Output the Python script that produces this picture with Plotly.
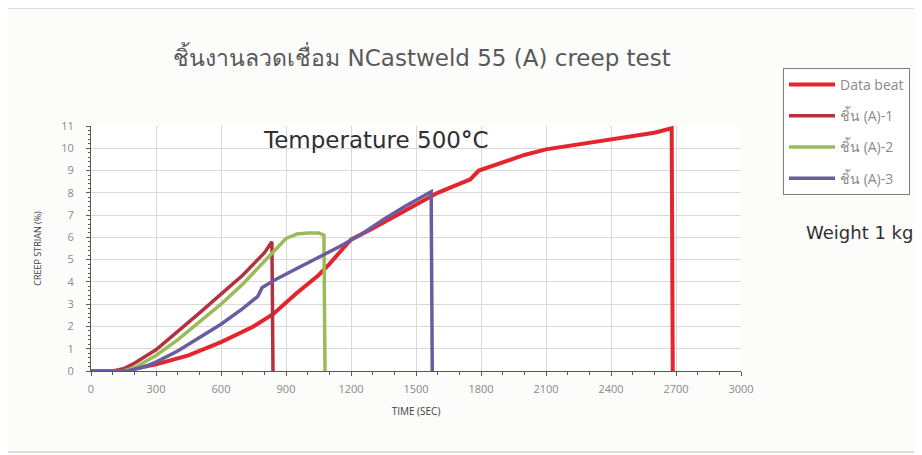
import plotly.graph_objects as go

# ---- data ----
beat_x = [0, 150, 300, 450, 600, 750, 840, 950, 1050, 1100, 1163, 1200, 1300, 1400, 1500, 1600,
          1700, 1750, 1790, 1900, 2000, 2100, 2200, 2300, 2400, 2500, 2600, 2680, 2685]
beat_y = [0, 0, 0.3, 0.7, 1.3, 2.0, 2.55, 3.5, 4.3, 4.8, 5.5, 5.9, 6.4, 6.95, 7.5, 8.0,
          8.4, 8.6, 9.0, 9.35, 9.7, 9.95, 10.1, 10.25, 10.4, 10.55, 10.7, 10.9, 0]

s1_x = [0, 100, 150, 200, 300, 400, 500, 600, 700, 800, 835, 840]
s1_y = [0, 0, 0.1, 0.35, 0.95, 1.75, 2.6, 3.45, 4.3, 5.3, 5.8, 0]

s2_x = [0, 150, 200, 300, 400, 500, 600, 700, 800, 850, 900, 950, 1000, 1050, 1075, 1080]
s2_y = [0, 0, 0.15, 0.7, 1.4, 2.2, 3.0, 3.9, 4.9, 5.4, 5.95, 6.15, 6.2, 6.2, 6.1, 0]

s3_x = [0, 170, 250, 300, 400, 500, 600, 700, 770, 790, 850, 950, 1050, 1150, 1250, 1350,
        1450, 1550, 1570, 1575]
s3_y = [0, 0, 0.2, 0.4, 0.9, 1.5, 2.1, 2.8, 3.35, 3.75, 4.1, 4.6, 5.1, 5.6, 6.15, 6.8,
        7.4, 7.95, 8.05, 0]

names = ["Data beat", "ชิ้น (A)-1", "ชิ้น (A)-2", "ชิ้น (A)-3"]
colors = ["#e3262e", "#b2323f", "#9bbb59", "#6b5b9f"]
widths = [4, 3.5, 3.5, 3.5]
x_ticks = [0, 300, 600, 900, 1200, 1500, 1800, 2100, 2400, 2700, 3000]
y_ticks = list(range(0, 12))

title_text = "ชิ้นงานลวดเชื่อม NCastweld 55 (A) creep test"

FONT = "Open Sans, Noto Sans, DejaVu Sans, sans-serif"
WIDE = "DejaVu Sans, Noto Sans, sans-serif"

L, T, PW, PH = 83, 118, 650, 245
W, H = 922, 455

fig = go.Figure()
for i, (xs, ys) in enumerate([(beat_x, beat_y), (s1_x, s1_y), (s2_x, s2_y), (s3_x, s3_y)]):
    fig.add_trace(go.Scatter(x=xs, y=ys, mode="lines", name=names[i],
                             line=dict(color=colors[i], width=widths[i]),
                             legendgroup=f"g{i}"))

def px(xp):
    return (xp - L) / PW

def py(yp):
    return (T + PH - yp) / PH

fig.update_layout(
    width=W, height=H,
    margin=dict(l=L, r=W - L - PW, t=T, b=H - T - PH),
    paper_bgcolor="#fcfcfa",
    plot_bgcolor="#ffffff",
    font=dict(family=FONT, color="#595959"),
    title=dict(text=title_text, x=414 / W, xanchor="center", y=1 - 50 / H, yanchor="middle",
               font=dict(size=23, color="#595959", family=WIDE)),
    showlegend=True,
    legend=dict(x=px(775), xanchor="left", y=py(60), yanchor="top",
                bordercolor="#7f7f7f", borderwidth=1, bgcolor="#ffffff",
                font=dict(size=14, color="#8a8a8a"), tracegroupgap=10,
                itemwidth=46),
    xaxis=dict(range=[0, 3000], tickvals=x_ticks, showgrid=True, gridcolor="#d9d9d9",
               showline=True, linecolor="#595959", linewidth=1, zeroline=False,
               ticks="outside", ticklen=4, tickcolor="#595959", ticklabelstandoff=4,
               minor=dict(dtick=100, ticks="outside", ticklen=3, tickcolor="#595959", showgrid=False),
               tickfont=dict(size=11, color="#8a8a8a"),
               title=dict(text="TIME (SEC)", font=dict(size=10, color="#404040"), standoff=12)),
    yaxis=dict(range=[0, 11], tickvals=y_ticks, showgrid=True, gridcolor="#d9d9d9",
               showline=True, linecolor="#595959", linewidth=1, zeroline=False,
               ticks="outside", ticklen=4, tickcolor="#595959", ticklabelstandoff=10,
               minor=dict(dtick=0.2, ticks="outside", ticklen=2, tickcolor="#595959", showgrid=False),
               tickfont=dict(size=11, color="#8a8a8a"),
               title=dict(text="CREEP STRIAN (%)", font=dict(size=9, color="#404040"), standoff=18)),
    shapes=[dict(type="rect", xref="paper", yref="paper",
                 x0=px(-2), x1=px(910), y0=py(444), y1=py(0),
                 fillcolor="rgba(0,0,0,0)", line=dict(color="#dcdcdc", width=2), layer="below")],
    annotations=[
        dict(text="Temperature 500<b>°</b>C", xref="paper", yref="paper",
             x=px(367), y=py(132), xanchor="center", yanchor="middle", showarrow=False,
             font=dict(size=23, color="#303030", family=WIDE)),
        dict(text="Weight 1 kg", xref="paper", yref="paper",
             x=px(851), y=py(224), xanchor="center", yanchor="middle", showarrow=False,
             font=dict(size=18, color="#303030", family=WIDE)),
    ],
)

fig.write_html("out.html")
